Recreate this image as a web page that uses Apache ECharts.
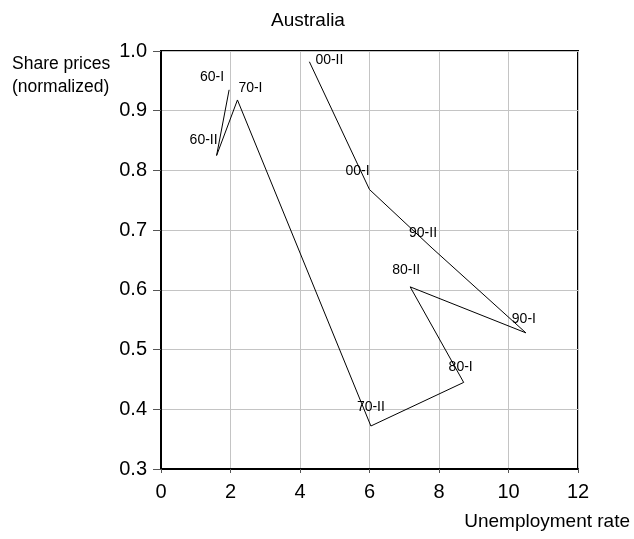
<!DOCTYPE html>
<html>
<head>
<meta charset="utf-8">
<script src="https://cdn.jsdelivr.net/npm/echarts@6/dist/echarts.min.js"></script>
<style>
html,body{margin:0;padding:0;background:#fff;}
#chart{width:634px;height:539px;}
</style>
</head>
<body>
<div id="chart"></div>
<script>
// Data
var periods = ['60-I', '60-II', '70-I', '70-II', '80-I', '80-II', '90-I', '90-II', '00-I', '00-II'];
var unemployment = [1.96, 1.60, 2.20, 6.04, 8.71, 7.17, 10.50, 7.80, 6.00, 4.27];
var sharePrices = [0.935, 0.825, 0.918, 0.372, 0.445, 0.605, 0.528, 0.670, 0.768, 0.982];
var xTicks = [0, 2, 4, 6, 8, 10, 12];
var yTicks = [0.3, 0.4, 0.5, 0.6, 0.7, 0.8, 0.9, 1.0];

// label placement (style only)
var labelOffsets = [[-17, -13], [-13, -15], [13, -12], [0, -19], [-3, -15], [-4, -17], [-2, -14], [-9, -15], [-12, -18], [20, -2]];

var FONT = '"Liberation Sans", Arial, sans-serif';
var pts = periods.map(function (p, i) { return [unemployment[i], sharePrices[i], p]; });
var labelPts = pts.map(function (d, i) {
  return { value: d, label: { offset: labelOffsets[i] } };
});

var chart = echarts.init(document.getElementById('chart'), null, { renderer: 'canvas' });
chart.setOption({
  animation: false,
  backgroundColor: '#fff',
  textStyle: { fontFamily: FONT, color: '#000' },
  title: {
    text: 'Australia', left: 266, top: 6,
    textStyle: { fontFamily: FONT, fontSize: 19, fontWeight: 'normal', color: '#000' }
  },
  graphic: [
    { type: 'text', left: 12, top: 53, style: { text: 'Share prices\n(normalized)', font: '17.5px ' + FONT, fill: '#000', lineHeight: 23 } },
    { type: 'text', right: 4, top: 512, style: { text: 'Unemployment rate', font: '19px ' + FONT, fill: '#000' } }
  ],
  grid: {
    left: 161, right: 56, top: 51, bottom: 70,
    show: true, borderColor: '#000', borderWidth: 2, backgroundColor: '#fff'
  },
  xAxis: {
    type: 'value', min: xTicks[0], max: xTicks[xTicks.length - 1], interval: 2,
    axisLine: { show: true, lineStyle: { color: '#000', width: 2 } },
    axisTick: { show: true, length: 4, lineStyle: { color: '#555' } },
    axisLabel: { fontFamily: FONT, fontSize: 20, color: '#000', margin: 13 },
    splitLine: { show: true, lineStyle: { color: '#c4c4c4', width: 1 } }
  },
  yAxis: {
    type: 'value', min: yTicks[0], max: yTicks[yTicks.length - 1], interval: 0.1,
    axisLine: { show: true, lineStyle: { color: '#000', width: 2 } },
    axisTick: { show: true, length: 8, lineStyle: { color: '#555' } },
    axisLabel: { fontFamily: FONT, fontSize: 20, color: '#000', margin: 14,
      formatter: function (v) { return v.toFixed(1); } },
    splitLine: { show: true, lineStyle: { color: '#c4c4c4', width: 1 } }
  },
  series: [
    {
      type: 'line', data: pts, showSymbol: false, symbol: 'none',
      lineStyle: { color: '#000', width: 1 }, z: 3
    },
    {
      type: 'scatter', data: labelPts, symbolSize: 0,
      itemStyle: { color: '#000', opacity: 1 },
      emphasis: { disabled: true },
      label: {
        show: true, position: 'inside', align: 'center', verticalAlign: 'middle',
        fontFamily: FONT, fontSize: 14, color: '#000', opacity: 1,
        textBorderWidth: 0,
        formatter: function (p) { return p.value[2]; }
      },
      z: 4
    }
  ]
});
</script>
</body>
</html>
